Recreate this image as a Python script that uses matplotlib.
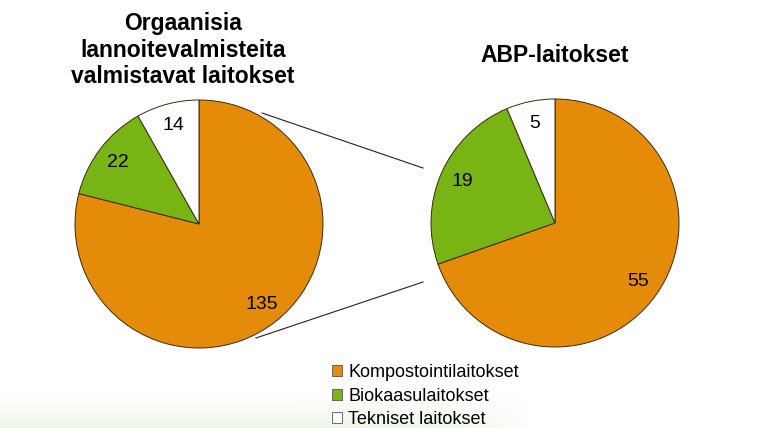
import numpy as np
import matplotlib
matplotlib.use("Agg")
import matplotlib.pyplot as plt
from matplotlib.patches import Patch

plt.rcParams['font.family'] = ['Liberation Sans', 'DejaVu Sans']

categories = ["Kompostointilaitokset", "Biokaasulaitokset", "Tekniset laitokset"]
left_values = [135, 22, 14]
right_values = [55, 19, 5]
left_title = "Orgaanisia\nlannoitevalmisteita\nvalmistavat laitokset"
right_title = "ABP-laitokset"
colors = ["#E48C0A", "#78B414", "#FFFFFF"]

W, H = 780, 428
fig = plt.figure(figsize=(W / 100, H / 100), dpi=100)

# subtle background gradient at the bottom
bg = fig.add_axes([0, 0, 1, 1], zorder=0)
bg.set_xlim(0, W); bg.set_ylim(0, H); bg.axis('off')
ny, nx = 60, 200
yy = np.linspace(0, 1, ny)[:, None]
xx = np.linspace(0, 1, nx)[None, :]
alpha = np.clip((1 - yy), 0, 1) ** 1.5 * np.clip(1 - (xx / 0.68) ** 8, 0, 1)
img = np.ones((ny, nx, 4))
img[..., 0] = 0.93; img[..., 1] = 0.96; img[..., 2] = 0.90
img[..., 3] = alpha
bg.imshow(img, extent=[0, W, 0, 35], origin='lower', aspect='auto')

ax = fig.add_axes([0, 0, 1, 1], zorder=1)
ax.set_xlim(0, W); ax.set_ylim(0, H)
ax.set_aspect('equal'); ax.axis('off')
ax.patch.set_alpha(0)

def draw(values, center, r):
    total = sum(values)
    wedges, texts, autotexts = ax.pie(
        values, colors=colors, startangle=90, counterclock=False,
        center=center, radius=r, frame=True,
        autopct=lambda p: f"{round(p * total / 100)}", pctdistance=0.82,
        wedgeprops=dict(edgecolor="#3a2a10", linewidth=0.7),
        textprops=dict(fontsize=14, color="black"))
    return wedges

draw(left_values, (199, 204), 124)
draw(right_values, (555, 205), 124)
ax.set_xlim(0, W); ax.set_ylim(0, H)
ax.axis('off')

# connector lines
ax.plot([262, 423], [315, 260], color="#222222", lw=0.8)
ax.plot([256, 423], [90, 146], color="#222222", lw=0.8)

ax.text(183, 378, left_title, ha='center', va='center', fontsize=16.5,
        fontweight='bold', linespacing=1.17)
ax.text(555, 373, right_title, ha='center', va='center', fontsize=16.5,
        fontweight='bold')

handles = [Patch(facecolor=c, edgecolor="#555555", linewidth=0.6) for c in colors]
leg = fig.legend(handles, categories, loc='upper left',
                 bbox_to_anchor=(323 / W, 1 - 355 / H), frameon=False,
                 fontsize=13, handlelength=0.55, handleheight=0.55,
                 handletextpad=0.35, labelspacing=0.36, borderpad=0)

fig.savefig("out.png", dpi=100)
